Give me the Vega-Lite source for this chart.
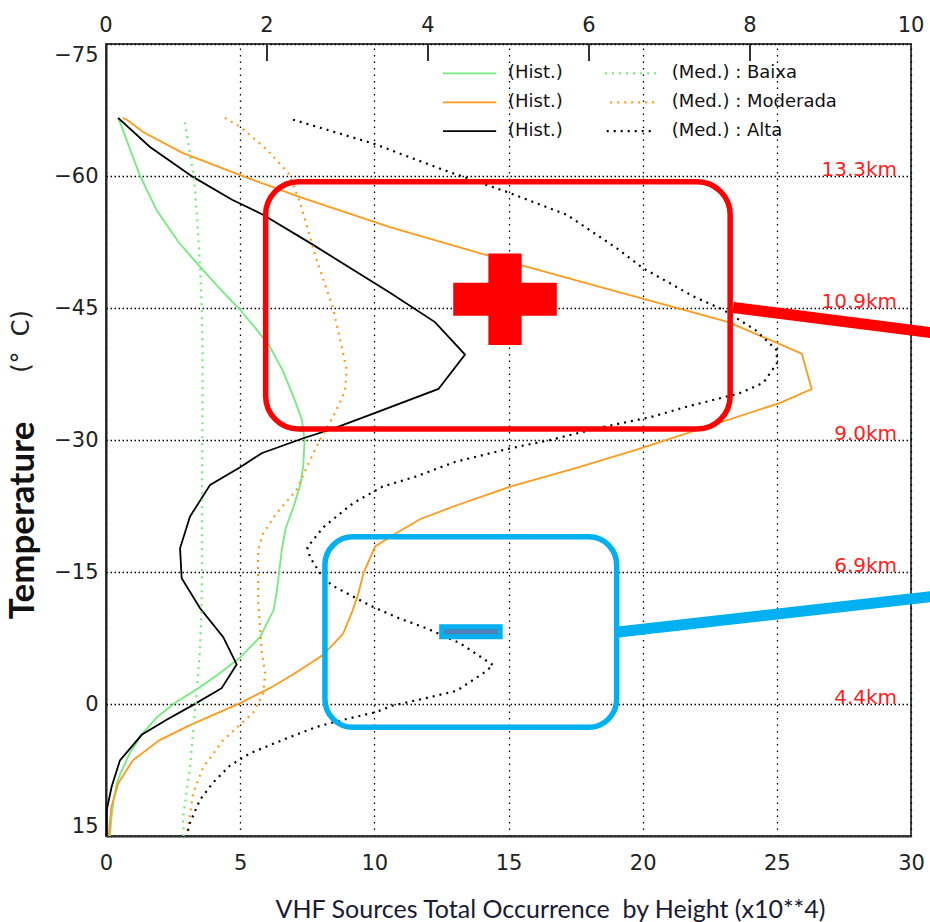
{
"$schema": "https://vega.github.io/schema/vega-lite/v6.json",
"width": 805, "height": 792,
"autosize": "none",
"padding": {"left": 106, "top": 44, "right": 19, "bottom": 86},
"background": "white",
"config": {"view": {"stroke": "#444", "strokeWidth": 2}},
"datasets": {
"curves": [
{"s":"Hist. Baixa","i":0,"v":0.45,"T":-66.6},{"s":"Hist. Baixa","i":1,"v":0.6,"T":-65.5},{"s":"Hist. Baixa","i":2,"v":0.9,"T":-63},{"s":"Hist. Baixa","i":3,"v":1.27,"T":-60},{"s":"Hist. Baixa","i":4,"v":1.89,"T":-56.1},{"s":"Hist. Baixa","i":5,"v":2.7,"T":-52.5},{"s":"Hist. Baixa","i":6,"v":3.5,"T":-49.7},{"s":"Hist. Baixa","i":7,"v":4.3,"T":-47},{"s":"Hist. Baixa","i":8,"v":5.0,"T":-44.8},{"s":"Hist. Baixa","i":9,"v":5.6,"T":-42.6},{"s":"Hist. Baixa","i":10,"v":6.11,"T":-40.6},{"s":"Hist. Baixa","i":11,"v":6.6,"T":-37.8},{"s":"Hist. Baixa","i":12,"v":7.04,"T":-34.5},{"s":"Hist. Baixa","i":13,"v":7.3,"T":-32.3},{"s":"Hist. Baixa","i":14,"v":7.4,"T":-30},{"s":"Hist. Baixa","i":15,"v":7.35,"T":-27},{"s":"Hist. Baixa","i":16,"v":7.25,"T":-25},{"s":"Hist. Baixa","i":17,"v":7.0,"T":-22.5},{"s":"Hist. Baixa","i":18,"v":6.7,"T":-20},{"s":"Hist. Baixa","i":19,"v":6.55,"T":-17.5},{"s":"Hist. Baixa","i":20,"v":6.45,"T":-14.9},{"s":"Hist. Baixa","i":21,"v":6.35,"T":-12.5},{"s":"Hist. Baixa","i":22,"v":6.25,"T":-10.7},{"s":"Hist. Baixa","i":23,"v":5.74,"T":-7.6},{"s":"Hist. Baixa","i":24,"v":5.0,"T":-5.3},{"s":"Hist. Baixa","i":25,"v":4.2,"T":-3.4},{"s":"Hist. Baixa","i":26,"v":3.4,"T":-1.7},{"s":"Hist. Baixa","i":27,"v":2.6,"T":-0.2},{"s":"Hist. Baixa","i":28,"v":1.9,"T":1.5},{"s":"Hist. Baixa","i":29,"v":1.38,"T":3.3},{"s":"Hist. Baixa","i":30,"v":0.9,"T":5.5},{"s":"Hist. Baixa","i":31,"v":0.55,"T":7.8},{"s":"Hist. Baixa","i":32,"v":0.4,"T":9.0},{"s":"Hist. Baixa","i":33,"v":0.28,"T":11},{"s":"Hist. Baixa","i":34,"v":0.2,"T":13},{"s":"Hist. Baixa","i":35,"v":0.15,"T":15},
{"s":"Hist. Alta","i":0,"v":0.45,"T":-66.6},{"s":"Hist. Alta","i":1,"v":1.64,"T":-63.3},{"s":"Hist. Alta","i":2,"v":3.24,"T":-59.9},{"s":"Hist. Alta","i":3,"v":4.7,"T":-57.3},{"s":"Hist. Alta","i":4,"v":5.85,"T":-55.6},{"s":"Hist. Alta","i":5,"v":7.6,"T":-52.4},{"s":"Hist. Alta","i":6,"v":10.6,"T":-46.7},{"s":"Hist. Alta","i":7,"v":12.26,"T":-43.4},{"s":"Hist. Alta","i":8,"v":13.38,"T":-39.7},{"s":"Hist. Alta","i":9,"v":12.39,"T":-35.8},{"s":"Hist. Alta","i":10,"v":9.96,"T":-33.0},{"s":"Hist. Alta","i":11,"v":8.47,"T":-31.3},{"s":"Hist. Alta","i":12,"v":7.35,"T":-30.2},{"s":"Hist. Alta","i":13,"v":5.8,"T":-28.5},{"s":"Hist. Alta","i":14,"v":5.0,"T":-26.9},{"s":"Hist. Alta","i":15,"v":3.88,"T":-24.9},{"s":"Hist. Alta","i":16,"v":3.13,"T":-21.3},{"s":"Hist. Alta","i":17,"v":2.76,"T":-17.7},{"s":"Hist. Alta","i":18,"v":2.82,"T":-14.3},{"s":"Hist. Alta","i":19,"v":3.5,"T":-10.9},{"s":"Hist. Alta","i":20,"v":4.37,"T":-7.6},{"s":"Hist. Alta","i":21,"v":4.87,"T":-4.5},{"s":"Hist. Alta","i":22,"v":4.31,"T":-1.8},{"s":"Hist. Alta","i":23,"v":3.25,"T":0.1},{"s":"Hist. Alta","i":24,"v":2.26,"T":1.8},{"s":"Hist. Alta","i":25,"v":1.33,"T":3.5},{"s":"Hist. Alta","i":26,"v":0.52,"T":6.4},{"s":"Hist. Alta","i":27,"v":0.21,"T":9.4},{"s":"Hist. Alta","i":28,"v":0.03,"T":12},{"s":"Hist. Alta","i":29,"v":0.03,"T":15},
{"s":"Hist. Moderada","i":0,"v":0.63,"T":-66.6},{"s":"Hist. Moderada","i":1,"v":0.78,"T":-66.4},{"s":"Hist. Moderada","i":2,"v":1.38,"T":-65},{"s":"Hist. Moderada","i":3,"v":2.87,"T":-62.6},{"s":"Hist. Moderada","i":4,"v":5.0,"T":-60.1},{"s":"Hist. Moderada","i":5,"v":7.23,"T":-57.6},{"s":"Hist. Moderada","i":6,"v":10.58,"T":-54.2},{"s":"Hist. Moderada","i":7,"v":15.43,"T":-49.9},{"s":"Hist. Moderada","i":8,"v":18.4,"T":-47.4},{"s":"Hist. Moderada","i":9,"v":23.2,"T":-43.4},{"s":"Hist. Moderada","i":10,"v":25.93,"T":-39.8},{"s":"Hist. Moderada","i":11,"v":26.3,"T":-35.8},{"s":"Hist. Moderada","i":12,"v":25.1,"T":-34.2},{"s":"Hist. Moderada","i":13,"v":19.78,"T":-28.9},{"s":"Hist. Moderada","i":14,"v":17.5,"T":-26.8},{"s":"Hist. Moderada","i":15,"v":15.06,"T":-24.7},{"s":"Hist. Moderada","i":16,"v":13.0,"T":-22.5},{"s":"Hist. Moderada","i":17,"v":11.7,"T":-21.0},{"s":"Hist. Moderada","i":18,"v":10.7,"T":-19.2},{"s":"Hist. Moderada","i":19,"v":10.03,"T":-17.9},{"s":"Hist. Moderada","i":20,"v":9.6,"T":-14.9},{"s":"Hist. Moderada","i":21,"v":9.4,"T":-12.5},{"s":"Hist. Moderada","i":22,"v":9.2,"T":-10.7},{"s":"Hist. Moderada","i":23,"v":8.84,"T":-8.0},{"s":"Hist. Moderada","i":24,"v":8.1,"T":-5.6},{"s":"Hist. Moderada","i":25,"v":7.0,"T":-3.4},{"s":"Hist. Moderada","i":26,"v":6.1,"T":-1.8},{"s":"Hist. Moderada","i":27,"v":5.0,"T":-0.1},{"s":"Hist. Moderada","i":28,"v":3.13,"T":2.4},{"s":"Hist. Moderada","i":29,"v":2.0,"T":4.1},{"s":"Hist. Moderada","i":30,"v":1.0,"T":6.4},{"s":"Hist. Moderada","i":31,"v":0.46,"T":9.0},{"s":"Hist. Moderada","i":32,"v":0.2,"T":11.7},{"s":"Hist. Moderada","i":33,"v":0.1,"T":15},
{"s":"Med. Baixa","i":0,"v":2.94,"T":-66.1},{"s":"Med. Baixa","i":1,"v":3.1,"T":-63},{"s":"Med. Baixa","i":2,"v":3.28,"T":-59.9},{"s":"Med. Baixa","i":3,"v":3.4,"T":-55},{"s":"Med. Baixa","i":4,"v":3.5,"T":-50},{"s":"Med. Baixa","i":5,"v":3.57,"T":-45.1},{"s":"Med. Baixa","i":6,"v":3.6,"T":-40},{"s":"Med. Baixa","i":7,"v":3.6,"T":-34.5},{"s":"Med. Baixa","i":8,"v":3.58,"T":-25},{"s":"Med. Baixa","i":9,"v":3.58,"T":-15},{"s":"Med. Baixa","i":10,"v":3.55,"T":-9.9},{"s":"Med. Baixa","i":11,"v":3.5,"T":-6.1},{"s":"Med. Baixa","i":12,"v":3.38,"T":-1.3},{"s":"Med. Baixa","i":13,"v":3.25,"T":3},{"s":"Med. Baixa","i":14,"v":3.13,"T":7.3},{"s":"Med. Baixa","i":15,"v":3.0,"T":10},{"s":"Med. Baixa","i":16,"v":2.87,"T":13},{"s":"Med. Baixa","i":17,"v":2.9,"T":15},
{"s":"Med. Moderada","i":0,"v":4.43,"T":-66.6},{"s":"Med. Moderada","i":1,"v":5.0,"T":-65.6},{"s":"Med. Moderada","i":2,"v":6.0,"T":-63},{"s":"Med. Moderada","i":3,"v":6.8,"T":-60.3},{"s":"Med. Moderada","i":4,"v":7.23,"T":-57},{"s":"Med. Moderada","i":5,"v":7.85,"T":-50.5},{"s":"Med. Moderada","i":6,"v":8.46,"T":-45},{"s":"Med. Moderada","i":7,"v":8.97,"T":-38},{"s":"Med. Moderada","i":8,"v":8.9,"T":-35.5},{"s":"Med. Moderada","i":9,"v":8.46,"T":-32.6},{"s":"Med. Moderada","i":10,"v":7.97,"T":-30},{"s":"Med. Moderada","i":11,"v":7.48,"T":-26.9},{"s":"Med. Moderada","i":12,"v":7.1,"T":-24.3},{"s":"Med. Moderada","i":13,"v":6.36,"T":-21.7},{"s":"Med. Moderada","i":14,"v":5.86,"T":-19.4},{"s":"Med. Moderada","i":15,"v":5.67,"T":-17.5},{"s":"Med. Moderada","i":16,"v":5.67,"T":-11.8},{"s":"Med. Moderada","i":17,"v":5.8,"T":-6.1},{"s":"Med. Moderada","i":18,"v":5.93,"T":-3.5},{"s":"Med. Moderada","i":19,"v":5.86,"T":-1.2},{"s":"Med. Moderada","i":20,"v":5.48,"T":1.0},{"s":"Med. Moderada","i":21,"v":4.37,"T":4.1},{"s":"Med. Moderada","i":22,"v":3.62,"T":7.2},{"s":"Med. Moderada","i":23,"v":3.25,"T":10.1},{"s":"Med. Moderada","i":24,"v":3.06,"T":14},{"s":"Med. Moderada","i":25,"v":3.0,"T":15},
{"s":"Med. Alta","i":0,"v":6.97,"T":-66.4},{"s":"Med. Alta","i":1,"v":9.95,"T":-63.7},{"s":"Med. Alta","i":2,"v":12.57,"T":-60.7},{"s":"Med. Alta","i":3,"v":14.93,"T":-58.2},{"s":"Med. Alta","i":4,"v":17.17,"T":-55.6},{"s":"Med. Alta","i":5,"v":19.03,"T":-51.8},{"s":"Med. Alta","i":6,"v":20.03,"T":-49.5},{"s":"Med. Alta","i":7,"v":21.9,"T":-46.3},{"s":"Med. Alta","i":8,"v":23.0,"T":-44.8},{"s":"Med. Alta","i":9,"v":24.2,"T":-42.5},{"s":"Med. Alta","i":10,"v":25.0,"T":-40.2},{"s":"Med. Alta","i":11,"v":25.0,"T":-38.7},{"s":"Med. Alta","i":12,"v":24.5,"T":-36.5},{"s":"Med. Alta","i":13,"v":23.6,"T":-35.3},{"s":"Med. Alta","i":14,"v":21.6,"T":-33.75},{"s":"Med. Alta","i":15,"v":20.3,"T":-32.6},{"s":"Med. Alta","i":16,"v":18.4,"T":-31.4},{"s":"Med. Alta","i":17,"v":16.55,"T":-30.0},{"s":"Med. Alta","i":18,"v":15.06,"T":-29.05},{"s":"Med. Alta","i":19,"v":13.0,"T":-27.5},{"s":"Med. Alta","i":20,"v":11.5,"T":-25.8},{"s":"Med. Alta","i":21,"v":10.3,"T":-24.7},{"s":"Med. Alta","i":22,"v":9.2,"T":-22.8},{"s":"Med. Alta","i":23,"v":8.1,"T":-20.1},{"s":"Med. Alta","i":24,"v":7.5,"T":-17.8},{"s":"Med. Alta","i":25,"v":7.6,"T":-16.7},{"s":"Med. Alta","i":26,"v":7.97,"T":-14.9},{"s":"Med. Alta","i":27,"v":8.41,"T":-13.5},{"s":"Med. Alta","i":28,"v":9.9,"T":-11.1},{"s":"Med. Alta","i":29,"v":10.96,"T":-9.7},{"s":"Med. Alta","i":30,"v":11.95,"T":-8.6},{"s":"Med. Alta","i":31,"v":13.2,"T":-6.9},{"s":"Med. Alta","i":32,"v":13.94,"T":-5.4},{"s":"Med. Alta","i":33,"v":14.43,"T":-4.4},{"s":"Med. Alta","i":34,"v":14.06,"T":-3.5},{"s":"Med. Alta","i":35,"v":13.07,"T":-1.5},{"s":"Med. Alta","i":36,"v":11.83,"T":-0.6},{"s":"Med. Alta","i":37,"v":10.65,"T":0.2},{"s":"Med. Alta","i":38,"v":10.09,"T":0.9},{"s":"Med. Alta","i":39,"v":8.84,"T":1.8},{"s":"Med. Alta","i":40,"v":7.85,"T":2.6},{"s":"Med. Alta","i":41,"v":6.86,"T":3.75},{"s":"Med. Alta","i":42,"v":5.37,"T":5.6},{"s":"Med. Alta","i":43,"v":4.62,"T":7.0},{"s":"Med. Alta","i":44,"v":4.0,"T":8.9},{"s":"Med. Alta","i":45,"v":3.5,"T":10.9},{"s":"Med. Alta","i":46,"v":3.13,"T":13.5},{"s":"Med. Alta","i":47,"v":3.0,"T":15}
],
"legend": [
{"s":"Hist. Baixa","x1":12.56,"x2":14.54,"T":-71.67,"tx":14.98,"label":"(Hist.)"},
{"s":"Hist. Moderada","x1":12.56,"x2":14.54,"T":-68.37,"tx":14.98,"label":"(Hist.)"},
{"s":"Hist. Alta","x1":12.56,"x2":14.54,"T":-65.11,"tx":14.98,"label":"(Hist.)"},
{"s":"Med. Baixa","x1":18.6,"x2":20.65,"T":-71.67,"tx":21.08,"label":"(Med.) : Baixa"},
{"s":"Med. Moderada","x1":18.79,"x2":20.54,"T":-68.37,"tx":21.08,"label":"(Med.) : Moderada"},
{"s":"Med. Alta","x1":18.66,"x2":20.39,"T":-65.11,"tx":21.08,"label":"(Med.) : Alta"}
]
},
"layer": [
{
"data": {"name": "curves"},
"transform": [{"filter": "indexof(datum.s, 'Hist.') == 0"}],
"mark": {"type": "line", "strokeWidth": 1.8, "interpolate": "linear"},
"encoding": {
"x": {"field": "v", "type": "quantitative", "scale": {"domain": [0, 30], "nice": false, "zero": false},
"axis": {"orient": "bottom", "values": [0,5,10,15,20,25,30], "grid": true, "gridDash": [1.5,5], "gridColor": "#000", "gridWidth": 1.3, "gridOpacity": 1, "ticks": false, "domainColor": "#333", "domainWidth": 2, "labelFont": "DejaVu Sans", "labelFontSize": 21, "labelColor": "#222", "labelPadding": 16, "labelFlush": false,
"title": "VHF Sources Total Occurrence\u00a0 by Height (x10**4)", "titleFont": "Lato", "titleFontSize": 25, "titleFontWeight": "normal", "titleColor": "#1a1a33", "titleX": 444, "titleY": 81, "titleBaseline": "alphabetic", "titleAlign": "center"}},
"y": {"field": "T", "type": "quantitative", "scale": {"domain": [-75, 15], "reverse": true, "nice": false, "zero": false},
"axis": {"orient": "left", "values": [-75,-60,-45,-30,-15,0,15], "grid": true, "gridDash": [1.5,2.5], "gridColor": "#000", "gridWidth": 1.3, "gridOpacity": 1, "ticks": false, "domainColor": "#222", "domainWidth": 2, "labelFont": "DejaVu Sans", "labelFontSize": 21, "labelColor": "#222", "labelPadding": 8, "labelFlush": true,
"title": "Temperature", "titleFont": "Lato", "titleFontSize": 35, "titleFontWeight": "bold", "titleColor": "#111", "titleAngle": 270, "titleX": -84, "titleY": 476, "titleAlign": "center", "titleBaseline": "middle"}},
"color": {"field": "s", "type": "nominal", "legend": null, "scale": {"domain": ["Hist. Baixa","Hist. Moderada","Hist. Alta","Med. Baixa","Med. Moderada","Med. Alta"], "range": ["#72ec7c","#ff9a1e","#000000","#72ec7c","#ff9a1e","#000000"]}},
"detail": {"field": "s"},
"order": {"field": "i", "type": "quantitative"}
}
},
{
"data": {"name": "curves"},
"transform": [{"filter": "indexof(datum.s, 'Med.') == 0"}],
"mark": {"type": "line", "strokeWidth": 2.2, "strokeDash": [2, 5]},
"encoding": {
"x": {"field": "v", "type": "quantitative"},
"y": {"field": "T", "type": "quantitative"},
"color": {"field": "s", "type": "nominal", "legend": null},
"detail": {"field": "s"},
"order": {"field": "i", "type": "quantitative"}
}
},
{
"data": {"values": [{"v": 6}, {"v": 12}, {"v": 18}, {"v": 24}]},
"mark": {"type": "rule", "stroke": "#333", "strokeWidth": 2},
"encoding": {
"x": {"field": "v", "type": "quantitative"},
"y": {"datum": -75, "type": "quantitative"},
"y2": {"datum": -73.07}
}
},
{
"data": {"values": [{"v": 0, "l": "0"}, {"v": 6, "l": "2"}, {"v": 12, "l": "4"}, {"v": 18, "l": "6"}, {"v": 24, "l": "8"}, {"v": 30, "l": "10"}]},
"mark": {"type": "text", "align": "center", "baseline": "alphabetic", "dy": -12, "font": "DejaVu Sans", "fontSize": 21, "color": "#222", "clip": false},
"encoding": {
"x": {"field": "v", "type": "quantitative"},
"y": {"datum": -75, "type": "quantitative"},
"text": {"field": "l"}
}
},
{
"data": {"name": "legend"},
"transform": [{"filter": "indexof(datum.s, 'Hist.') == 0"}],
"mark": {"type": "rule", "strokeWidth": 1.8},
"encoding": {
"x": {"field": "x1", "type": "quantitative"},
"x2": {"field": "x2"},
"y": {"field": "T", "type": "quantitative"},
"color": {"field": "s", "type": "nominal", "legend": null}
}
},
{
"data": {"name": "legend"},
"transform": [{"filter": "indexof(datum.s, 'Med.') == 0"}],
"mark": {"type": "rule", "strokeWidth": 2.2, "strokeDash": [2, 5]},
"encoding": {
"x": {"field": "x1", "type": "quantitative"},
"x2": {"field": "x2"},
"y": {"field": "T", "type": "quantitative"},
"color": {"field": "s", "type": "nominal", "legend": null}
}
},
{
"data": {"name": "legend"},
"mark": {"type": "text", "align": "left", "baseline": "middle", "font": "DejaVu Sans", "fontSize": 18, "color": "#111"},
"encoding": {
"x": {"field": "tx", "type": "quantitative"},
"y": {"field": "T", "type": "quantitative"},
"text": {"field": "label"}
}
},
{
"data": {"values": [{"T": -60, "label": "13.3km"}, {"T": -45, "label": "10.9km"}, {"T": -30, "label": "9.0km"}, {"T": -15, "label": "6.9km"}, {"T": 0, "label": "4.4km"}]},
"mark": {"type": "text", "align": "right", "baseline": "alphabetic", "font": "DejaVu Sans", "fontSize": 20, "color": "#ff2020"},
"encoding": {
"x": {"datum": 29.48, "type": "quantitative"},
"y": {"field": "T", "type": "quantitative"},
"text": {"field": "label"}
}
},
{
"data": {"values": [{"label": "(°\u00a0 C)", "xv": -3.13, "T": -41.2}]},
"mark": {"type": "text", "align": "center", "baseline": "middle", "angle": 270, "font": "DejaVu Sans", "fontSize": 24, "color": "#222", "clip": false},
"encoding": {
"x": {"field": "xv", "type": "quantitative"},
"y": {"field": "T", "type": "quantitative"},
"text": {"field": "label"}
}
},
{
"data": {"values": [{"x1": 5.95, "x2": 23.26, "y1": -59.35, "y2": -31.25}]},
"mark": {"type": "rect", "filled": false, "stroke": "#ff0000", "strokeWidth": 5.5, "cornerRadius": 33},
"encoding": {
"x": {"field": "x1", "type": "quantitative"},
"x2": {"field": "x2"},
"y": {"field": "y1", "type": "quantitative"},
"y2": {"field": "y2"}
}
},
{
"data": {"values": [{"x1": 14.25, "x2": 15.49, "y1": -51.2, "y2": -40.8}, {"x1": 12.94, "x2": 16.8, "y1": -47.87, "y2": -44.13}]},
"mark": {"type": "rect", "fill": "#ff0000"},
"encoding": {
"x": {"field": "x1", "type": "quantitative"},
"x2": {"field": "x2"},
"y": {"field": "y1", "type": "quantitative"},
"y2": {"field": "y2"}
}
},
{
"data": {"values": [{"x1": 23.37, "T1": -45.06, "x2": 31.5, "T2": -41.9}]},
"mark": {"type": "rule", "stroke": "#ff0000", "strokeWidth": 11, "strokeCap": "butt", "clip": false},
"encoding": {
"x": {"field": "x1", "type": "quantitative"},
"x2": {"field": "x2"},
"y": {"field": "T1", "type": "quantitative"},
"y2": {"field": "T2"}
}
},
{
"data": {"values": [{"x1": 8.16, "x2": 19.03, "y1": -19.0, "y2": 2.65}]},
"mark": {"type": "rect", "filled": false, "stroke": "#00b0f0", "strokeWidth": 5.5, "cornerRadius": 28},
"encoding": {
"x": {"field": "x1", "type": "quantitative"},
"x2": {"field": "x2"},
"y": {"field": "y1", "type": "quantitative"},
"y2": {"field": "y2"}
}
},
{
"data": {"values": [{"x1": 12.51, "x2": 14.69, "y1": -8.77, "y2": -7.64}]},
"mark": {"type": "rect", "fill": "#4f81bd", "stroke": "#00b0f0", "strokeWidth": 5},
"encoding": {
"x": {"field": "x1", "type": "quantitative"},
"x2": {"field": "x2"},
"y": {"field": "y1", "type": "quantitative"},
"y2": {"field": "y2"}
}
},
{
"data": {"values": [{"x1": 19.09, "T1": -8.18, "x2": 31.5, "T2": -12.47}]},
"mark": {"type": "rule", "stroke": "#00b0f0", "strokeWidth": 11, "strokeCap": "butt", "clip": false},
"encoding": {
"x": {"field": "x1", "type": "quantitative"},
"x2": {"field": "x2"},
"y": {"field": "T1", "type": "quantitative"},
"y2": {"field": "T2"}
}
}
]
}
